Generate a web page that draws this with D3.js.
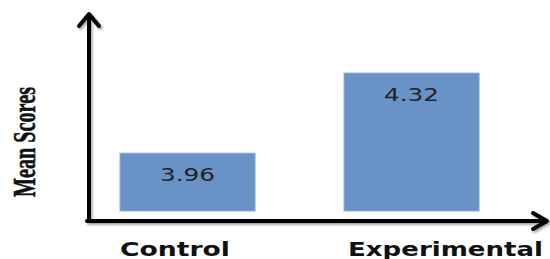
<!DOCTYPE html>
<html>
<head>
<meta charset="utf-8">
<script src="https://cdn.jsdelivr.net/npm/d3@7"></script>
<style>
  html, body { margin: 0; padding: 0; background: #fff; }
  svg { display: block; }
</style>
</head>
<body>
<svg id="chart" width="550" height="259"></svg>
<script>
// ---- data ----
const categories = ["Control", "Experimental"];
const meanScores = [3.96, 4.32];
const valueLabels = ["3.96", "4.32"];
const yAxisTitle = "Mean Scores";

const svg = d3.select("#chart");

// scales
const y = d3.scaleLinear().domain([3.7, 4.5]).range([211, 33]);
const x = d3.scaleBand().domain(categories)
  .range([52.8, 546.3]).paddingInner(0.397).paddingOuter(0.3);
const labelX = d3.scalePoint().domain(categories).range([175, 445.5]);

// shadow filter for axes
const defs = svg.append("defs");
const f = defs.append("filter").attr("id", "sh").attr("x", "-10%").attr("y", "-10%")
  .attr("width", "130%").attr("height", "130%");
f.append("feDropShadow").attr("dx", 1.5).attr("dy", 2).attr("stdDeviation", 1.2)
  .attr("flood-color", "#000").attr("flood-opacity", 0.35);

// bars
svg.selectAll("rect.bar").data(categories).join("rect")
  .attr("class", "bar")
  .attr("x", d => x(d))
  .attr("width", x.bandwidth())
  .attr("y", (d, i) => y(meanScores[i]))
  .attr("height", (d, i) => y(3.7) - y(meanScores[i]))
  .attr("fill", "#6993c7")
  .attr("stroke", "#8fb0d8")
  .attr("stroke-width", 1);

// value labels
svg.selectAll("text.val").data(categories).join("text")
  .attr("class", "val")
  .attr("x", d => x(d) + x.bandwidth() / 2)
  .attr("y", (d, i) => y(meanScores[i]) + 28)
  .attr("text-anchor", "middle")
  .attr("font-family", "DejaVu Sans, Verdana, sans-serif")
  .attr("font-size", 18.5)
  .attr("fill", "#222")
  .attr("textLength", 55)
  .attr("lengthAdjust", "spacingAndGlyphs")
  .text((d, i) => valueLabels[i]);

// axes with arrows
const axes = svg.append("g").attr("filter", "url(#sh)")
  .attr("stroke", "#000").attr("stroke-width", 4).attr("fill", "none")
  .attr("stroke-linecap", "round").attr("stroke-linejoin", "round");
const x0 = 89, yBase = 221, yTop = 14, xEnd = 547;
axes.append("path").attr("d", `M${x0},${yBase} L${x0},${yTop + 2}`);
axes.append("path").attr("d", `M${x0 - 10},${yTop + 12} L${x0},${yTop} L${x0 + 10},${yTop + 12}`);
axes.append("path").attr("d", `M${x0 - 2},${yBase} L${xEnd - 2},${yBase}`);
axes.append("path").attr("d", `M${xEnd - 14},${yBase - 8} L${xEnd},${yBase} L${xEnd - 14},${yBase + 8}`);

// category labels
const catW = { "Control": 110, "Experimental": 195 };
svg.selectAll("text.cat").data(categories).join("text")
  .attr("class", "cat")
  .attr("x", d => labelX(d))
  .attr("y", 256)
  .attr("text-anchor", "middle")
  .attr("font-family", "DejaVu Sans, Verdana, sans-serif")
  .attr("font-weight", "bold")
  .attr("font-size", 19)
  .attr("fill", "#111")
  .attr("textLength", d => catW[d])
  .attr("lengthAdjust", "spacingAndGlyphs")
  .text(d => d);

// y axis title
svg.append("text")
  .attr("transform", "translate(35,142) rotate(-90)")
  .attr("text-anchor", "middle")
  .attr("font-family", "Liberation Serif, Times New Roman, serif")
  .attr("font-weight", "bold")
  .attr("font-size", 32)
  .attr("fill", "#111")
  .attr("stroke", "#111")
  .attr("stroke-width", 0.6)
  .attr("textLength", 110)
  .attr("lengthAdjust", "spacingAndGlyphs")
  .text(yAxisTitle);
</script>
</body>
</html>
